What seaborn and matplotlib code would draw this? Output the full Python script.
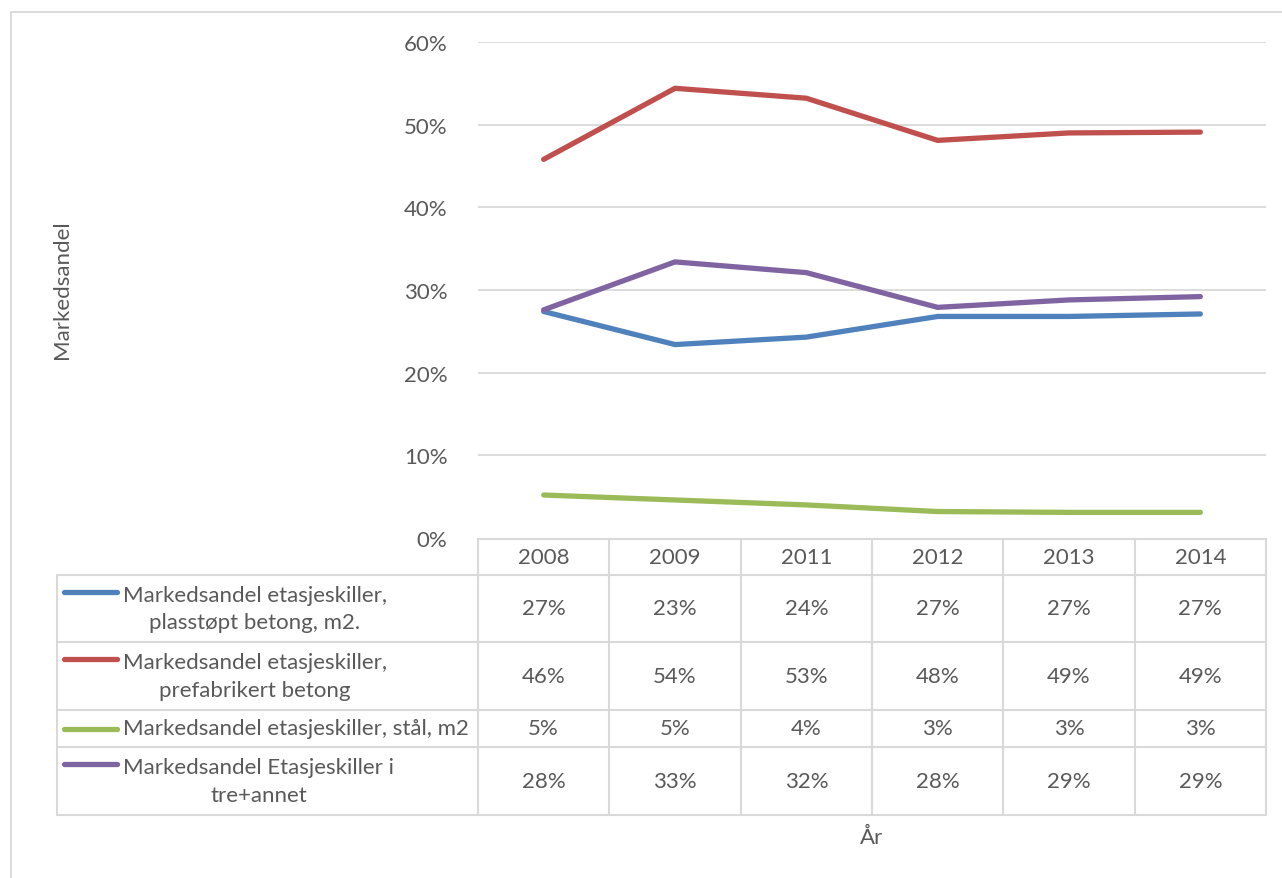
import matplotlib
matplotlib.use("Agg")
import matplotlib.pyplot as plt
import seaborn as sns
import pandas as pd
from matplotlib.lines import Line2D

years = ["2008", "2009", "2011", "2012", "2013", "2014"]
series_names = [
    "Markedsandel etasjeskiller,\nplasstøpt betong, m2.",
    "Markedsandel etasjeskiller,\nprefabrikert betong",
    "Markedsandel etasjeskiller, stål, m2",
    "Markedsandel Etasjeskiller i\ntre+annet",
]
plasstopt = [27.4, 23.4, 24.3, 26.8, 26.8, 27.1]
prefab = [45.8, 54.4, 53.2, 48.1, 49.0, 49.1]
staal = [5.2, 4.6, 4.0, 3.2, 3.1, 3.1]
tre = [27.6, 33.4, 32.1, 27.9, 28.8, 29.2]
all_values = [plasstopt, prefab, staal, tre]
colors = ["#4F81BD", "#C0504D", "#9BBB59", "#8064A2"]
y_ticks = [0, 10, 20, 30, 40, 50, 60]

sns.set_theme(style="white")
plt.rcParams["font.family"] = ["Lato", "DejaVu Sans"]

W, H = 1282, 879
fig = plt.figure(figsize=(W / 100, H / 100), dpi=100)
fig.patch.set_facecolor("white")

def fx(px):
    return px / W

def fy(py):
    return 1 - py / H

TXT = "#595959"
GRID = "#D9D9D9"
FS = 16
LW = 3.8

# chart border (top and left only visible)
fig.add_artist(Line2D([fx(11), fx(W + 5)], [fy(13), fy(13)], transform=fig.transFigure,
                      color=GRID, lw=1.3))
fig.add_artist(Line2D([fx(11), fx(11)], [fy(13), fy(H + 5)], transform=fig.transFigure,
                      color=GRID, lw=1.3))

x0, x1 = 478, 1266
ytop, ybot = 43, 539
ax = fig.add_axes([fx(x0), fy(ybot), fx(x1) - fx(x0), fy(ytop) - fy(ybot)])

rows = []
for name, vals in zip(series_names, all_values):
    for yr, v in zip(years, vals):
        rows.append({"year": yr, "value": v, "series": name})
df = pd.DataFrame(rows)

sns.lineplot(data=df, x="year", y="value", hue="series", palette=colors,
             linewidth=LW, ax=ax, legend=False, sort=False)
for ln in ax.lines:
    ln.set_solid_capstyle("round")
    ln.set_solid_joinstyle("round")

ax.set_xlim(-0.5, 5.5)
ax.set_ylim(0, 60)
ax.set_yticks(y_ticks)
ax.set_yticklabels([f"{t}%" for t in y_ticks], color=TXT, fontsize=FS)
ax.tick_params(axis="y", length=0, pad=22)
ax.set_xticks([])
ax.set_xlabel("")
ax.set_ylabel("")
for sp in ax.spines.values():
    sp.set_visible(False)
for t in y_ticks[1:]:
    ax.axhline(t, color=GRID, lw=1.3, zorder=0)

# data table
col_edges = [x0 + i * (x1 - x0) / 6 for i in range(7)]
row_edges = [576, 643, 711, 748, 816]
tleft = 57
lkw = dict(transform=fig.transFigure, color=GRID, lw=1.5)
fig.add_artist(Line2D([fx(x0), fx(x1)], [fy(540), fy(540)], **lkw))
for ry in row_edges:
    fig.add_artist(Line2D([fx(tleft), fx(x1)], [fy(ry), fy(ry)], **lkw))
for cx in col_edges:
    fig.add_artist(Line2D([fx(cx), fx(cx)], [fy(540), fy(816)], **lkw))
fig.add_artist(Line2D([fx(tleft), fx(tleft)], [fy(576), fy(816)], **lkw))

for i, yr in enumerate(years):
    cx = (col_edges[i] + col_edges[i + 1]) / 2
    fig.text(fx(cx), fy(558), yr, ha="center", va="center", color=TXT, fontsize=FS)

for r, (name, vals, c) in enumerate(zip(series_names, all_values, colors)):
    top, bot = row_edges[r], row_edges[r + 1]
    cy = (top + bot) / 2
    for i, v in enumerate(vals):
        cx = (col_edges[i] + col_edges[i + 1]) / 2
        fig.text(fx(cx), fy(cy), f"{round(v):d}%", ha="center", va="center",
                 color=TXT, fontsize=FS)
    two = "\n" in name
    first_line_y = top + 17 if two else cy
    fig.add_artist(Line2D([fx(64), fx(117)], [fy(first_line_y), fy(first_line_y)],
                          transform=fig.transFigure, color=c, lw=LW,
                          solid_capstyle="round"))
    fig.text(fx(123), fy(cy), name, ha="left", va="center", multialignment="center",
             color=TXT, fontsize=FS, linespacing=1.45)

fig.text(fx(62), fy(290), "Markedsandel", rotation=90, ha="center", va="center",
         color=TXT, fontsize=FS)
fig.text(fx(872), fy(838), "År", ha="center", va="center", color=TXT, fontsize=FS)

fig.savefig("out.png", dpi=100, facecolor="white")
